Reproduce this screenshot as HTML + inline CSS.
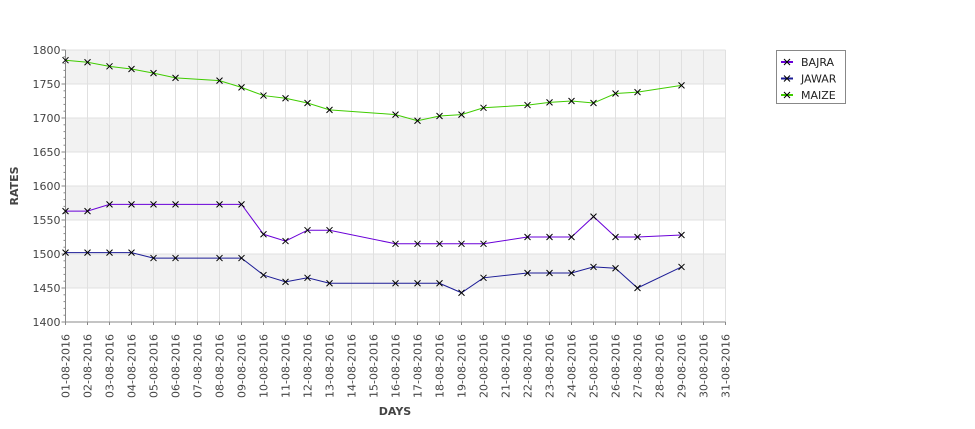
<!DOCTYPE html>
<html><head><meta charset="utf-8"><style>
html,body{margin:0;padding:0;background:#fff;}
svg{display:block;font-family:"DejaVu Sans","Liberation Sans",sans-serif;}
</style></head><body>
<svg id="chart" width="975" height="429"></svg>
<script>
const days = [1,2,3,4,5,6,8,9,10,11,12,13,16,17,18,19,20,22,23,24,25,26,27,29];
const bajra = [1563,1563,1573,1573,1573,1573,1573,1573,1529,1519,1535,1535,1515,1515,1515,1515,1515,1525,1525,1525,1555,1525,1525,1528];
const jawar = [1502,1502,1502,1502,1494,1494,1494,1494,1469,1459,1465,1457,1457,1457,1457,1443,1465,1472,1472,1472,1481,1479,1450,1481];
const maize = [1785,1782,1776,1772,1766,1759,1755,1745,1733,1729,1722,1712,1705,1696,1703,1705,1715,1719,1723,1725,1722,1736,1738,1748];
const yTicks = [1400,1450,1500,1550,1600,1650,1700,1750,1800];
const xDays = Array.from({length:31},(_,i)=>i+1);

const NS='http://www.w3.org/2000/svg';
const svg=document.getElementById('chart');
const L=65.5,R=725.5,T=50,B=322;
const x=d=>L+(d-1)*(R-L)/30;
const y=v=>B-(v-1400)*(B-T)/400;
function mk(tag,attrs,parent){const e=document.createElementNS(NS,tag);for(const k in attrs)e.setAttribute(k,attrs[k]);(parent||svg).appendChild(e);return e;}

// bands
for(let v=1450;v<1800;v+=100){
  const r=mk('rect',{x:L,y:y(v+50),width:R-L,height:y(v)-y(v+50),fill:'#f2f2f2'});
  
  
}
// grid
xDays.forEach(d=>{const l=mk('line',{x1:x(d),x2:x(d),y1:T,y2:B,stroke:'#e0e0e0','stroke-width':1});
  
  });
yTicks.forEach(v=>{const l=mk('line',{x1:L,x2:R,y1:y(v),y2:y(v),stroke:'#e0e0e0','stroke-width':1});
  
  });
// axes
const ax=mk('line',{x1:L,x2:L,y1:T,y2:B,stroke:'#888'});


const bx=mk('line',{x1:L,x2:R,y1:B,y2:B,stroke:'#888'});


for(let v=1400;v<=1800;v+=10){
  const major=v%50===0;
  mk('line',{x1:L-(major?4:2),x2:L,y1:y(v),y2:y(v),stroke:'#888'});
}
yTicks.forEach(v=>{const t=mk('text',{x:L-5,y:y(v)+4,'text-anchor':'end','font-size':11,fill:'#444'});t.textContent=v;
  
  });
xDays.forEach(d=>{
  mk('line',{x1:x(d),x2:x(d),y1:B,y2:B+3,stroke:'#888'});
  const lab=String(d).padStart(2,'0')+'-08-2016';
  const t=mk('text',{transform:`translate(${x(d)+4},${B+12}) rotate(-90)`,'text-anchor':'end','font-size':11,fill:'#444'});
  t.textContent=lab;
  
  
});
const yt=mk('text',{transform:`translate(18,186) rotate(-90)`,'text-anchor':'middle','font-size':11,'font-weight':'bold',fill:'#444'});
yt.textContent='RATES';


const xt=mk('text',{x:395,y:415,'text-anchor':'middle','font-size':11,'font-weight':'bold',fill:'#444'});
xt.textContent='DAYS';



function marker(cx,cy,p){mk('path',{d:`M${cx-3},${cy-3}L${cx+3},${cy+3}M${cx-3},${cy+3}L${cx+3},${cy-3}`,stroke:'#000','stroke-width':1},p);}
const series=[['BAJRA',bajra,'#6a00d8'],['JAWAR',jawar,'#1c1c96'],['MAIZE',maize,'#40cc00']];
series.forEach(([name,vals,col])=>{
  const g=mk('g',{});
  
  
  mk('polyline',{points:vals.map((v,i)=>x(days[i])+','+y(v)).join(' '),fill:'none',stroke:col,'stroke-width':1},g);
  vals.forEach((v,i)=>marker(x(days[i]),y(v),g));
});
// legend
const lg=mk('g',{});


mk('rect',{x:776.5,y:50.5,width:69,height:53,fill:'#fff',stroke:'#888'},lg);
series.forEach(([name,vals,col],i)=>{
  const e=mk('g',{},lg);
  
  
  const cy=62+i*16.5;
  mk('line',{x1:781,x2:793,y1:cy,y2:cy,stroke:col,'stroke-width':2},e);
  marker(787,cy,e);
  const t=mk('text',{x:801,y:cy+4,'font-size':11,fill:'#222'},e);t.textContent=name;
});
</script>
</body></html>
